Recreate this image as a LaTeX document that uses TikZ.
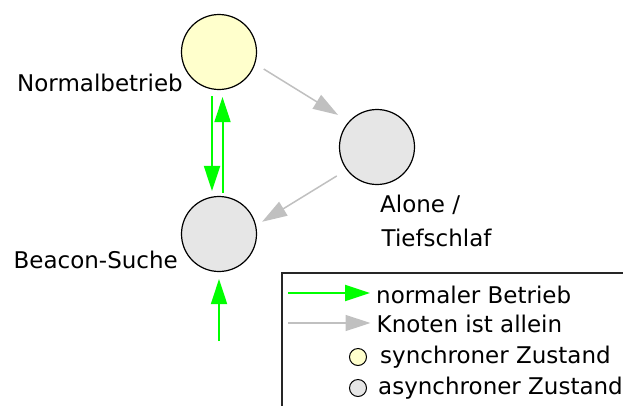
\documentclass[tikz,border=0pt]{standalone}
\usepackage{fontspec}
\setmainfont{DejaVu Sans}
\usetikzlibrary{arrows.meta}
\usetikzlibrary{positioning}
\definecolor{syncyellow}{RGB}{255,255,204}
\definecolor{asyncgray}{RGB}{230,230,230}
\definecolor{alonegray}{RGB}{192,192,192}
\definecolor{normgreen}{RGB}{0,255,0}
\tikzstyle{state}=[circle,draw=black,line width=1.2pt,minimum size=75pt,inner sep=0pt]
\tikzstyle{smallstate}=[circle,draw=black,line width=1pt,minimum size=17pt,inner sep=0pt]
\tikzstyle{normaledge} = [draw,normgreen,line width=2pt,-{Triangle[length=25pt,width=16pt]}]
\tikzstyle{aloneedge} = [draw,alonegray,line width=1.5pt,-{Triangle[length=25pt,width=16pt]}]
\tikzstyle{statelabel} = [inner sep=0pt,font=\fontsize{23}{30}\selectfont]
\tikzstyle{legendbox} = [draw=black!85,line width=1.2pt]

\begin{document}
\begin{tikzpicture}[x=1pt,y=-1pt]
    \useasboundingbox (0,0) rectangle (623,405);
    % Draw the three states
    \foreach \pos/\name/\fillcol in {{(219,52)/normal/syncyellow}, {(219,234)/beacon/asyncgray}, {(377,147)/alone/asyncgray}}
        \node[state,fill=\fillcol] (\name) at \pos {};

    \node[statelabel,anchor=base east] (normaltxt) at (183,91) {Normalbetrieb};
    \node[statelabel,anchor=base east] (beacontxt) at (178,268) {Beacon-Suche};
    \node[statelabel,anchor=base west] (alonetxt) at (380,212) {Alone /};
    \node[statelabel,anchor=base west] (tieftxt) at (381.5,246) {Tiefschlaf};

    % Transitions between the states
    \path[normaledge,shorten <=6pt,shorten >=5pt] ([xshift=-7pt]normal.south) -- ([xshift=-7pt]beacon.north);
    \path[normaledge,shorten <=3pt,shorten >=7pt] ([xshift=3.5pt]beacon.north) -- ([xshift=3.5pt]normal.south);
    \path[aloneedge,shorten <=10pt,shorten >=12.5pt] (normal.-18) -- (alone.138);
    \path[aloneedge,shorten <=11.5pt,shorten >=7pt] (alone.217) -- (beacon.13);

    \coordinate (entry) at (219,341);
    \path[normaledge,shorten >=7pt] (entry) -- (beacon.south);

    % Legend
    \begin{scope}
        \clip (0,0) rectangle (623,405);
        \draw[legendbox] (282,273) rectangle (640,420);
    \end{scope}
    \node[statelabel,anchor=base west] (legnormal) at (376,303) {normaler Betrieb};
    \node[statelabel,anchor=base west] (legalone) at (376.5,332.5) {Knoten ist allein};
    \node[smallstate,fill=syncyellow] (legsync) at (358,357) {};
    \node[statelabel,anchor=base west] (legsynctxt) at (380,363.5) {synchroner Zustand};
    \node[smallstate,fill=asyncgray] (legasync) at (358,388) {};
    \node[statelabel,anchor=base west] (legasynctxt) at (378,394.5) {asynchroner Zustand};

    \coordinate (legnormalstart) at (288,293);
    \coordinate (legalonestart) at (288,323);
    \path[normaledge,shorten >=6pt] (legnormalstart) -- (legnormalstart -| legnormal.west);
    \path[aloneedge,shorten >=6pt] (legalonestart) -- (legalonestart -| legalone.west);
\end{tikzpicture}
\end{document}
